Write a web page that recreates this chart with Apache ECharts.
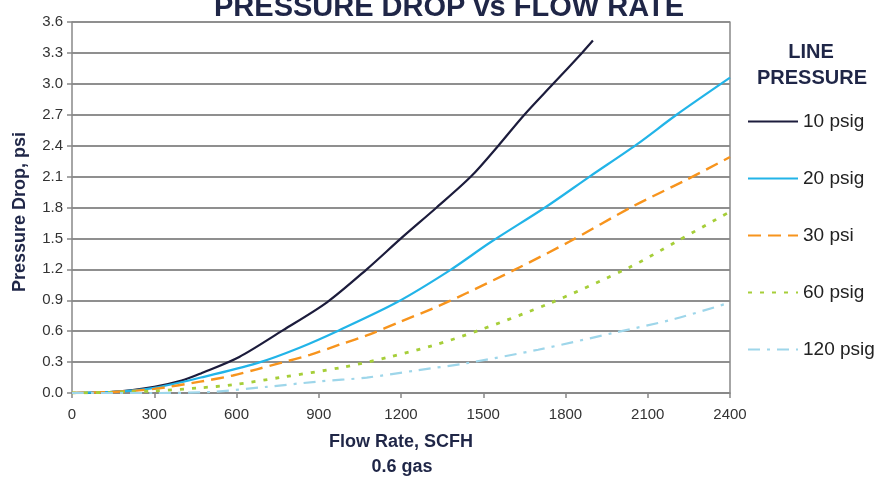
<!DOCTYPE html>
<html>
<head>
<meta charset="utf-8">
<script src="https://cdn.jsdelivr.net/npm/echarts@6/dist/echarts.min.js"></script>
<style>
html,body{margin:0;padding:0;background:#fff;}
#chart{width:886px;height:477px;}
</style>
</head>
<body>
<div id="chart"></div>
<script>
// ---- data ----
const xTickLabels = ['0','300','600','900','1200','1500','1800','2100','2400'];
const yTickLabels = ['0.0','0.3','0.6','0.9','1.2','1.5','1.8','2.1','2.4','2.7','3.0','3.3','3.6'];
const seriesNames = ['10 psig','20 psig','30 psi','60 psig','120 psig'];

const psig10 = [[0,0],[150,0.01],[300,0.06],[400,0.12],[470,0.19],[610,0.35],[770,0.61],[930,0.88],[1075,1.2],[1200,1.5],[1330,1.8],[1455,2.1],[1555,2.4],[1650,2.7],[1755,3.0],[1860,3.3],[1900,3.42]];
const psig20 = [[0,0],[150,0.01],[300,0.05],[470,0.15],[675,0.29],[830,0.44],[975,0.61],[1185,0.88],[1378,1.19],[1525,1.46],[1731,1.81],[1888,2.1],[2059,2.41],[2205,2.7],[2400,3.06]];
const psi30 = [[0,0],[150,0.01],[300,0.04],[467,0.11],[587,0.17],[674,0.23],[758,0.29],[868,0.37],[977,0.47],[1086,0.57],[1196,0.69],[1316,0.82],[1440,0.97],[1633,1.22],[1815,1.47],[2045,1.81],[2242,2.07],[2400,2.29]];
const psig60 = [[0,0],[200,0.01],[300,0.02],[467,0.05],[587,0.08],[758,0.15],[988,0.25],[1159,0.35],[1316,0.46],[1476,0.6],[1742,0.87],[2034,1.22],[2205,1.47],[2400,1.76]];
const psig120 = [[0,0],[300,0],[503,0.01],[711,0.06],[893,0.11],[1075,0.15],[1258,0.22],[1440,0.29],[1700,0.42],[1987,0.59],[2200,0.72],[2390,0.87]];

const seriesData = [psig10, psig20, psi30, psig60, psig120];
const seriesColors = ['#1c1c3c','#22b4e8','#f7941d','#a6ce39','#9ed6ea'];
const seriesDash = ['solid','solid',[13,7],[4,8],[12,7,3,7]];
const seriesWidth = [2.2, 2.2, 2.4, 2.8, 2.2];

const chart = echarts.init(document.getElementById('chart'));
const navy = '#1f2647';
const FF = 'Liberation Sans, Arial';

chart.setOption({
  animation: false,
  backgroundColor: '#fff',
  grid: {left: 72, right: 156, top: 22, bottom: 84},
  xAxis: {
    type: 'value', min: 0, max: 2400, interval: 300,
    axisLine: {show: true, lineStyle: {color: '#888', width: 1.5}},
    axisTick: {show: true, length: 5, lineStyle: {color: '#888', width: 1.5}},
    axisLabel: {
      margin: 14, fontSize: 15, color: '#333', fontFamily: FF,
      formatter: (v) => xTickLabels[Math.round(v/300)]
    },
    splitLine: {show: false}
  },
  yAxis: [{
    type: 'value', min: 0, max: 3.6, interval: 0.3,
    axisLine: {show: true, lineStyle: {color: '#888', width: 1.5}},
    axisTick: {show: true, length: 5, lineStyle: {color: '#888', width: 1.5}},
    axisLabel: {
      margin: 9, fontSize: 15, color: '#333', fontFamily: FF,
      formatter: (v) => yTickLabels[Math.round(v/0.3)]
    },
    splitLine: {show: true, lineStyle: {color: '#8f8f8f', width: 2}}
  },{
    type: 'value', min: 0, max: 3.6, interval: 0.3, position: 'right',
    axisLine: {show: true, lineStyle: {color: '#888', width: 1.5}},
    axisTick: {show: false}, axisLabel: {show: false}, splitLine: {show: false}
  }],
  legend: {
    orient: 'vertical', left: 742, top: 107,
    itemWidth: 50, itemHeight: 14, itemGap: 38,
    data: seriesNames,
    itemStyle: {color: 'rgba(0,0,0,0)', borderColor: 'rgba(0,0,0,0)', borderWidth: 0},
    textStyle: {fontSize: 19, color: '#222', fontFamily: FF}
  },
  series: seriesNames.map((n, i) => ({
    name: n, type: 'line', data: seriesData[i],
    yAxisIndex: 0,
    symbol: 'none', showSymbol: false, smooth: 0.3,
    lineStyle: {color: seriesColors[i], width: seriesWidth[i], type: seriesDash[i]},
    itemStyle: {color: seriesColors[i]}
  })),
  graphic: [
    {type: 'text', style: {
      text: 'PRESSURE DROP vs FLOW RATE', x: 449, y: 8, align: 'center', verticalAlign: 'middle',
      font: 'bold 29px ' + FF, fill: navy}},
    {type: 'text', style: {text: 'LINE', x: 811, y: 52, align: 'center', verticalAlign: 'middle',
      font: 'bold 20px ' + FF, fill: navy}},
    {type: 'text', style: {text: 'PRESSURE', x: 812, y: 78, align: 'center', verticalAlign: 'middle',
      font: 'bold 20px ' + FF, fill: navy}},
    {type: 'text', style: {text: 'Flow Rate, SCFH', x: 401, y: 442, align: 'center', verticalAlign: 'middle',
      font: 'bold 18px ' + FF, fill: navy}},
    {type: 'text', style: {text: '0.6 gas', x: 402, y: 467, align: 'center', verticalAlign: 'middle',
      font: 'bold 18px ' + FF, fill: navy}},
    {type: 'text', rotation: Math.PI/2, x: 20, y: 212, style: {text: 'Pressure Drop, psi', x: 0, y: 0,
      align: 'center', verticalAlign: 'middle', font: 'bold 18px ' + FF, fill: navy}}
  ]
});
</script>
</body>
</html>
